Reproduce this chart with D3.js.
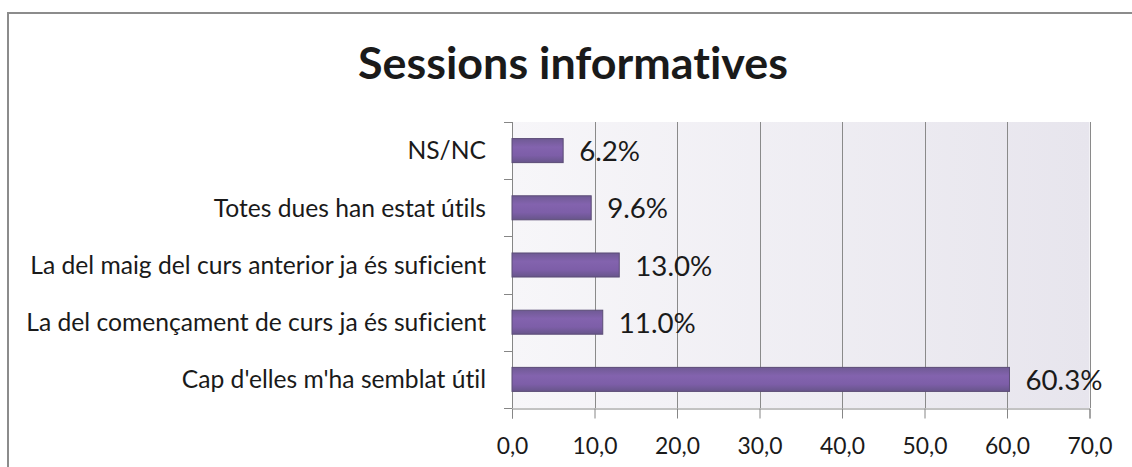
<!DOCTYPE html>
<html>
<head>
<meta charset="utf-8">
<script src="https://cdn.jsdelivr.net/npm/d3@7"></script>
<style>
  body { margin: 0; background: #fff; }
  svg { display: block; }
  text { font-family: Lato, "Open Sans", sans-serif; fill: #1a1a1a; font-variant-ligatures: none; }
</style>
</head>
<body>
<svg id="chart"></svg>
<script>
// chart data
let categories = [
    "NS/NC",
    "Totes dues han estat útils",
    "La del maig del curs anterior ja és suficient",
    "La del començament de curs ja és suficient",
    "Cap d'elles m'ha semblat útil"
];
let values = [6.2, 9.6, 13.0, 11.0, 60.3];
let xTicks = [0, 10, 20, 30, 40, 50, 60, 70];
let title = "Sessions informatives";

let width = 1132;
let height = 467;

let svg = d3.select("#chart")
    .attr("width", width)
    .attr("height", height);

let defs = svg.append("defs");

let bg = defs.append("linearGradient").attr("id", "plotbg")
    .attr("x1", "0").attr("y1", "0").attr("x2", "1").attr("y2", "0");
bg.append("stop").attr("offset", "0%").attr("stop-color", "#f7f6f9");
bg.append("stop").attr("offset", "100%").attr("stop-color", "#e7e5ed");

let barGrad = defs.append("linearGradient").attr("id", "bargrad")
    .attr("x1", "0").attr("y1", "0").attr("x2", "0").attr("y2", "1");
barGrad.append("stop").attr("offset", "0%").attr("stop-color", "#6f5a94");
barGrad.append("stop").attr("offset", "35%").attr("stop-color", "#8363ae");
barGrad.append("stop").attr("offset", "70%").attr("stop-color", "#7d5ea8");
barGrad.append("stop").attr("offset", "100%").attr("stop-color", "#67558a");

// chart border (left + top visible)
svg.append("path")
    .attr("d", "M8,468 V13 H1133")
    .attr("fill", "none")
    .attr("stroke", "#8c8c8c")
    .attr("stroke-width", 2);

let plot = {left: 512, right: 1089.5, top: 122, bottom: 408};

let xScale = d3.scaleLinear()
    .domain([0, 70])
    .range([plot.left, plot.right]);

let yScale = d3.scaleBand()
    .domain(categories)
    .range([plot.top, plot.bottom])
    .paddingInner(0.58)
    .paddingOuter(0.29);

// scale font size so a sample text reaches the target width
function fitFont(sample, weight, target) {
    let t = svg.append("text")
        .attr("font-size", 20)
        .attr("font-weight", weight)
        .text(sample);
    let w = t.node().getComputedTextLength();
    t.remove();
    return 20 * target / w;
}

let titleSize = fitFont(title, "bold", 430);
let catSize = fitFont(categories[2], "normal", 456);
let valSize = fitFont("13.0%", "normal", 77);
let tickSize = fitFont("10,0", "normal", 45);

// plot area background
svg.append("rect")
    .attr("x", plot.left)
    .attr("y", plot.top)
    .attr("width", plot.right - plot.left)
    .attr("height", plot.bottom - plot.top)
    .attr("fill", "url(#plotbg)");

// gridlines
svg.append("g")
    .selectAll("line")
    .data(xTicks.slice(1))
    .enter().append("line")
    .attr("x1", d => Math.round(xScale(d)) + 0.5)
    .attr("x2", d => Math.round(xScale(d)) + 0.5)
    .attr("y1", plot.top)
    .attr("y2", plot.bottom)
    .attr("stroke", "#8a8a8a")
    .attr("stroke-width", 1);

// x axis
let comma = d3.formatLocale({decimal: ",", thousands: ".", grouping: [3], currency: ["", "€"]});
let xAxis = d3.axisBottom(xScale)
    .tickValues(xTicks)
    .tickFormat(comma.format(".1f"))
    .tickSize(10)
    .tickPadding(19);

let gx = svg.append("g")
    .attr("transform", "translate(0," + (plot.bottom + 0.5) + ")")
    .call(xAxis);
gx.select(".domain").attr("stroke", "#868686");
gx.selectAll(".tick line").attr("stroke", "#868686");
gx.selectAll(".tick text")
    .attr("font-size", tickSize)
    .attr("font-family", "Lato, 'Open Sans', sans-serif")
    .attr("fill", "#1a1a1a");

// y axis line and category ticks
svg.append("line")
    .attr("x1", plot.left + 0.5).attr("x2", plot.left + 0.5)
    .attr("y1", plot.top).attr("y2", plot.bottom)
    .attr("stroke", "#868686");

let step = yScale.step();
let bounds = categories.map(c => yScale(c) - yScale.paddingOuter() * step)
    .concat([plot.bottom]);
svg.append("g")
    .selectAll("line")
    .data(bounds)
    .enter().append("line")
    .attr("x1", plot.left - 8)
    .attr("x2", plot.left)
    .attr("y1", d => Math.round(d) + 0.5)
    .attr("y2", d => Math.round(d) + 0.5)
    .attr("stroke", "#868686");

// category labels
svg.append("g")
    .selectAll("text")
    .data(categories)
    .enter().append("text")
    .attr("x", 486)
    .attr("y", d => yScale(d) + yScale.bandwidth() / 2)
    .attr("dy", "0.36em")
    .attr("text-anchor", "end")
    .attr("font-size", catSize)
    .text(d => d);

// bars
let data = categories.map((c, i) => ({cat: c, value: values[i]}));

svg.append("g")
    .selectAll("rect")
    .data(data)
    .enter().append("rect")
    .attr("x", xScale(0))
    .attr("y", d => yScale(d.cat))
    .attr("width", d => xScale(d.value) - xScale(0))
    .attr("height", yScale.bandwidth())
    .attr("fill", "url(#bargrad)")
    .attr("stroke", "#5b4c76")
    .attr("stroke-width", 1);

// value labels
svg.append("g")
    .selectAll("text")
    .data(data)
    .enter().append("text")
    .attr("x", d => xScale(d.value) + 16)
    .attr("y", d => yScale(d.cat) + yScale.bandwidth() / 2)
    .attr("dy", "0.38em")
    .attr("font-size", valSize)
    .text(d => d.value.toFixed(1) + "%");

// title
svg.append("text")
    .attr("x", 573)
    .attr("y", 79)
    .attr("text-anchor", "middle")
    .attr("font-size", titleSize)
    .attr("font-weight", "bold")
    .attr("fill", "#000")
    .text(title);
</script>
</body>
</html>
